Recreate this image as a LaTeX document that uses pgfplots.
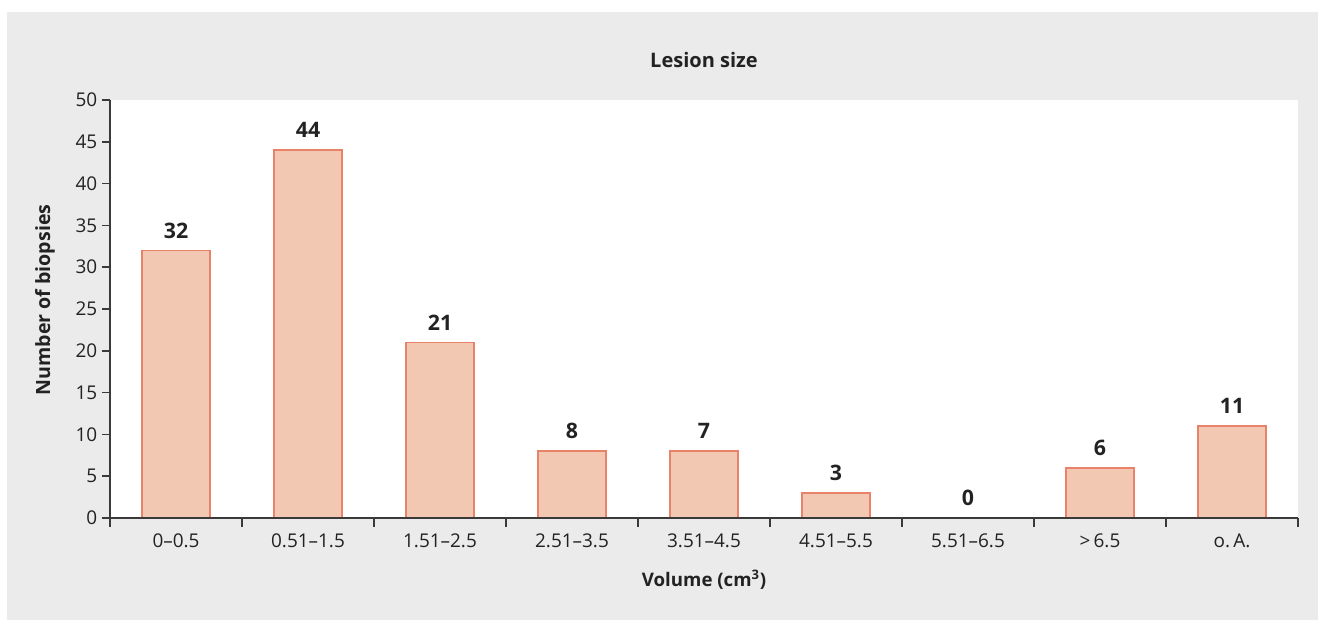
\documentclass[border=0pt]{standalone}
\usepackage{fontspec}
\setmainfont{Open Sans}
\usepackage{pgfplots}
\pgfplotsset{compat=1.18}
\definecolor{bg}{HTML}{EAEBEA}
\definecolor{barfill}{HTML}{F2C8B2}
\definecolor{baredge}{HTML}{E8836A}
\definecolor{axc}{HTML}{3A3A3A}
\definecolor{txt}{HTML}{222222}
\begin{document}
\begin{tikzpicture}
\begin{scope}[x=0.75pt,y=0.75pt]
\fill[white] (-110,-103) rectangle (1215,518);
\fill[bg] (-103,-102) rectangle (1208,506);
\end{scope}
\begin{axis}[
  at={(0,0)}, anchor=south west,
  scale only axis, width=891pt, height=313.5pt,
  xmin=-0.5, xmax=8.5, ymin=0, ymax=50,
  axis x line*=bottom, axis y line*=left,
  axis line style={draw=axc, line width=1.1pt},
  axis background/.style={fill=white},
  axis on top,
  ybar, bar width=51pt,
  xtick={0,...,8},
  xticklabels={0–0.5, 0.51–1.5, 1.51–2.5, 2.51–3.5, 3.51–4.5, 4.51–5.5, 5.51–6.5, >\,6.5, o.\,A.},
  major x tick style={draw=none},
  minor xtick={-0.5,0.5,...,8.5},
  minor tick length=6.75pt,
  major tick length=6pt,
  tick align=outside,
  tick style={draw=axc, line width=1.1pt},
  ytick={0,5,...,50},
  /pgf/number format/assume math mode=true,
  ticklabel style={font=\fontsize{14.2}{17}\selectfont, text=txt},
  xticklabel style={yshift=-2.5pt},
  point meta=explicit symbolic,
  nodes near coords,
  nodes near coords style={font=\bfseries\fontsize{16}{19}\selectfont, text=txt, anchor=south, yshift=5.3pt},
  title={Lesion size},
  title style={font=\bfseries\fontsize{15}{18}\selectfont, text=txt, at={(axis description cs:0.5,1.0766)}, anchor=center},
  ylabel={Number of biopsies},
  ylabel style={font=\bfseries\fontsize{14.7}{17}\selectfont, text=txt, at={(axis description cs:-0.0547,0.5215)}, anchor=center},
  xlabel={Volume (cm\textsuperscript{3})},
  xlabel style={font=\bfseries\fontsize{14}{17}\selectfont, text=txt, at={(axis description cs:0.5,-0.148)}, anchor=center},
]
\addplot[fill=barfill, draw=baredge, line width=1pt] coordinates {
  (0,32) [32]
  (1,44) [44]
  (2,21) [21]
  (3,8) [8]
  (4,8) [7]
  (5,3) [3]
  (6,0) [0]
  (7,6) [6]
  (8,11) [11]
};
\end{axis}
\end{tikzpicture}
\end{document}
